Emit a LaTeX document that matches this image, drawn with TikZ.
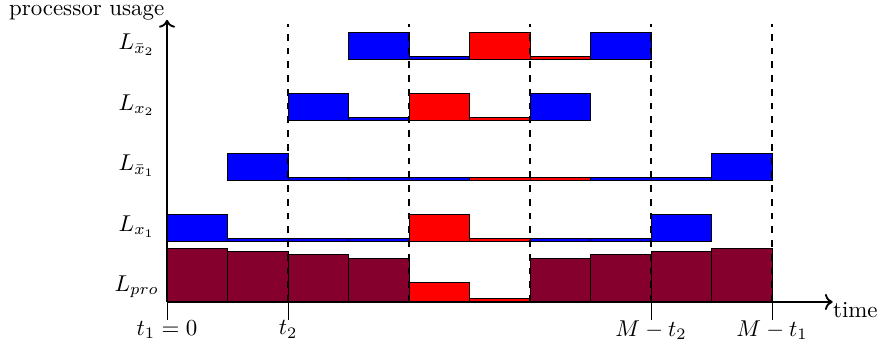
\documentclass[tikz,border=0pt]{standalone}
\usepackage{tikz}
\usetikzlibrary{arrows.meta,positioning}
\definecolor{promaroon}{rgb}{0.525,0,0.175}

\begin{document}
\begin{tikzpicture}[
  x=0.928cm, y=0.928cm,
  axis/.style={->, thick},
  slotline/.style={dashed, thick},
  tickline/.style={thin},
  slotbox/.style={draw=black},
  rowlabel/.style={anchor=center},
  ticklabel/.style={below, inner sep=0pt}
]
\useasboundingbox (-2.76,-0.727) rectangle (11.75,4.99);

% processor row
\foreach \x/\h in {0/0.89,1/0.83,2/0.78,3/0.72,6/0.72,7/0.78,8/0.83,9/0.89}
  \draw[slotbox, fill=promaroon] (\x,0) rectangle ++(1,\h);
\draw[slotbox, fill=red] (4,0) rectangle ++(1,0.33);
\draw[slotbox, fill=red] (5,0) rectangle ++(1,0.05);

% variable rows: slot/row/height/colour
\foreach \x/\y/\h/\c in {
    0/1/0.45/blue, 1/1/0.05/blue, 2/1/0.05/blue, 3/1/0.05/blue, 4/1/0.45/red,
    5/1/0.05/red, 6/1/0.05/blue, 7/1/0.05/blue, 8/1/0.45/blue,
    1/2/0.45/blue, 2/2/0.05/blue, 3/2/0.05/blue, 4/2/0.05/blue, 5/2/0.05/red,
    6/2/0.05/red, 7/2/0.05/blue, 8/2/0.05/blue, 9/2/0.45/blue,
    2/3/0.45/blue, 3/3/0.05/blue, 4/3/0.45/red, 5/3/0.05/red, 6/3/0.45/blue,
    3/4/0.45/blue, 4/4/0.05/blue, 5/4/0.45/red, 6/4/0.05/red, 7/4/0.45/blue}
  \draw[slotbox, fill=\c] (\x,\y) rectangle ++(1,\h);

% row labels
\node[rowlabel] (lpro) at (-0.5,0.25) {$L_{pro}$};
\node[rowlabel] (lx1) at (-0.5,1.25) {$L_{x_1}$};
\node[rowlabel] (lnx1) at (-0.5,2.25) {$L_{\bar{x}_1}$};
\node[rowlabel] (lx2) at (-0.5,3.25) {$L_{x_2}$};
\node[rowlabel] (lnx2) at (-0.5,4.25) {$L_{\bar{x}_2}$};

% slot boundaries
\foreach \x in {2,4,6,8,10}
  \draw[slotline] (\x,0) -- (\x,4.6);

% axes
\coordinate (origin) at (0,0);
\coordinate (ytop) at (0,4.66);
\coordinate (xend) at (11,0);
\draw[axis] (origin) -- (ytop);
\draw[axis] (origin) -- (xend);
\node[anchor=base east, inner sep=0pt, xshift=-1pt] (ylabel) at (0,4.74) {processor usage};
\node[anchor=north west, inner sep=0pt] (xlabel) at (xend) {time};

% time ticks
\foreach \x/\lab/\name in {0/{t_1=0}/ta, 2/{t_2}/tb, 8/{M-t_2}/tc, 10/{M-t_1}/td}
  \draw[tickline] (\x,0) -- (\x,-0.3) node[ticklabel] (\name) {$\lab$};
\end{tikzpicture}
\end{document}
